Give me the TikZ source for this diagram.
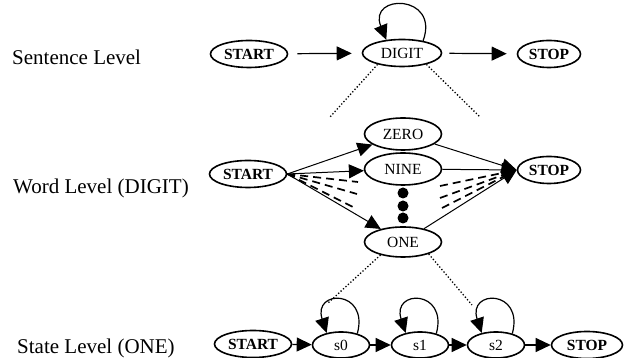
\documentclass[tikz,border=0pt]{standalone}
\usepackage{fontspec}
\setmainfont{Liberation Serif}
\usepackage{tikz}
\usetikzlibrary{arrows.meta, positioning, calc, shapes.geometric}

\begin{document}
\begin{tikzpicture}[x=1pt, y=1pt,
	state/.style={draw, ellipse, line width=1.6pt, inner sep=0pt, minimum width=77pt, minimum height=27pt, font=\fontsize{15.5}{18}\selectfont},
	endstate/.style={state, font=\fontsize{15.5}{18}\selectfont\bfseries},
	levellabel/.style={anchor=west, inner sep=0pt, font=\fontsize{21}{25}\selectfont},
	arr/.style={-{Triangle[length=15pt, width=14pt]}, line width=1.2pt},
	dashline/.style={line width=1.7pt, dash pattern=on 8pt off 5pt},
	dotline/.style={line width=1.3pt, dotted}]
	\useasboundingbox (0,0) rectangle (630,358);
	
	% Level labels
	\node[levellabel] (lsent) at (12,301) {Sentence Level};
	\node[levellabel] (lword) at (13,170) {Word Level (DIGIT)};
	\node[levellabel] (lstate) at (17,10) {State Level (ONE)};
	
	% Sentence level
	\node[endstate] (sstart) at (249,304) {START};
	\node[state, minimum width=79pt] (digit) at (402,305) {DIGIT};
	\node[endstate, minimum width=63pt] (sstop) at (549,304) {STOP};
	\draw[arr, shorten <=9pt, shorten >=10pt] (sstart) -- (digit);
	\draw[arr, shorten <=7pt, shorten >=10pt] (digit) -- (sstop);
	\draw[arr] (digit.30) .. controls +(70:50) and +(112:50) .. (digit.140);
	
	% Word level
	\node[endstate] (wstart) at (248,184) {START};
	\node[state, minimum height=32pt] (zero) at (403,224) {ZERO};
	\node[state, minimum height=32pt] (nine) at (403,189) {NINE};
	\node[state, minimum height=30pt] (one) at (403,116) {ONE};
	\node[endstate, minimum width=63pt] (wstop) at (549,188) {STOP};
	\foreach \w in {zero, nine, one} {
		\draw[arr, line width=1pt] (wstart.east) -- (\w);
		\draw[arr, line width=1pt] (\w) -- (wstop.west);
	}
	\foreach \y [count=\i] in {165,152,140} {
		\fill (403,\y) circle (5.5pt) coordinate (dot\i);
	}
	
	% Hidden words (dashed)
	\coordinate (dl1) at (358,176);
	\coordinate (dl2) at (357,164);
	\coordinate (dl3) at (353,151);
	\coordinate (dr1) at (440,172);
	\coordinate (dr2) at (440,160);
	\coordinate (dr3) at (442,150);
	\foreach \i in {1,2,3} {
		\draw[dashline] (wstart.east) -- (dl\i);
		\draw[dashline, shorten >=8pt] (dr\i) -- (wstop.west);
	}
	
	% Expansion of DIGIT
	\coordinate (dig1) at (330,241);
	\coordinate (dig2) at (480,241);
	\draw[dotline] (digit.205) -- (dig1);
	\draw[dotline] (digit.-25) -- (dig2);
	
	% State level
	\node[endstate] (tstart) at (253,14) {START};
	\node[state, minimum width=57pt, minimum height=26pt] (s0) at (341,13) {s0};
	\node[state, minimum width=57pt, minimum height=26pt] (s1) at (420,13) {s1};
	\node[state, minimum width=57pt, minimum height=26pt] (s2) at (496,13) {s2};
	\node[endstate, minimum width=71pt] (tstop) at (587,13) {STOP};
	\draw[arr] (tstart) -- (s0);
	\draw[arr] (s0) -- (s1);
	\draw[arr] (s1) -- (s2);
	\draw[arr] (s2) -- (tstop);
	\foreach \s in {s0, s1, s2} {
		\draw[arr] (\s.35) .. controls +(75:46) and +(108:46) .. (\s.140);
	}
	
	% Expansion of ONE
	\coordinate (one1) at (328,55);
	\coordinate (one2) at (472,53);
	\draw[dotline] (one.210) -- (one1);
	\draw[dotline] (one.-25) -- (one2);
\end{tikzpicture}
\end{document}
